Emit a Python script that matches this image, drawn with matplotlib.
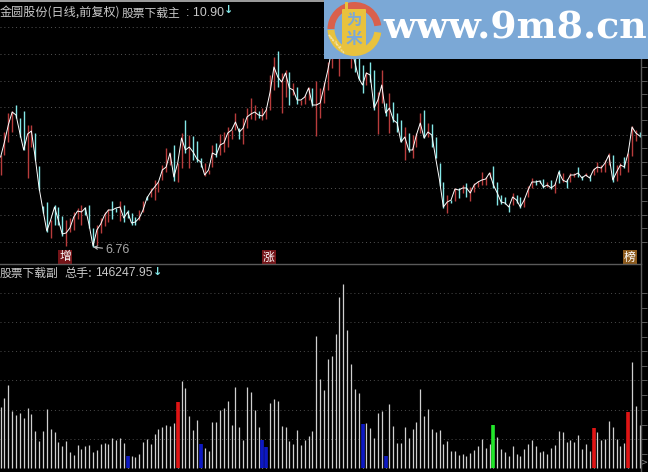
import matplotlib
matplotlib.use('Agg')
import matplotlib.pyplot as plt
from matplotlib.patches import Rectangle, Wedge, FancyBboxPatch
import numpy as np

plt.rcParams['font.family'] = ['Noto Sans CJK SC', 'DejaVu Sans']

# price readings, in ticks of 0.037 above the low of 6.76
close_ticks = [90, 105, 122, 135, 132, 114, 97, 113, 116, 89,
               59, 37, 16, 27, 40, 27, 13, 14, 19, 30,
               36, 35, 39, 22, 1, 17, 23, 32, 37, 37,
               39, 40, 29, 35, 24, 25, 29, 37, 49, 55,
               60, 65, 77, 80, 94, 70, 84, 109, 97, 100,
               95, 88, 85, 72, 77, 94, 92, 102, 104, 114,
               117, 125, 115, 119, 130, 133, 135, 132, 131, 137,
               155, 180, 170, 165, 174, 159, 157, 147, 147, 150,
               159, 142, 142, 144, 160, 177, 197, 202, 199, 207,
               209, 200, 185, 169, 162, 174, 172, 139, 147, 162,
               134, 139, 127, 124, 105, 110, 97, 97, 112, 124,
               109, 115, 112, 89, 67, 40, 45, 47, 58, 57,
               59, 59, 54, 62, 65, 67, 68, 74, 62, 54,
               45, 44, 40, 50, 47, 40, 47, 57, 65, 65,
               66, 60, 62, 59, 62, 75, 67, 65, 72, 72,
               74, 69, 72, 69, 77, 80, 79, 84, 92, 67,
               75, 82, 80, 94, 120, 114, 111]
high_ticks = [92, 115, 134, 136, 142, 129, 136, 122, 122, 114,
              81, 41, 45, 27, 42, 40, 31, 27, 29, 35,
              39, 42, 40, 42, 19, 22, 29, 35, 38, 46,
              39, 46, 42, 37, 34, 30, 37, 46, 51, 59,
              67, 65, 82, 99, 94, 102, 84, 114, 127, 112,
              111, 106, 89, 84, 77, 102, 104, 113, 115, 120,
              117, 134, 119, 129, 139, 149, 142, 136, 139, 139,
              172, 190, 196, 174, 177, 175, 164, 160, 147, 152,
              160, 159, 166, 159, 165, 185, 205, 209, 205, 212,
              217, 205, 202, 189, 182, 175, 185, 177, 155, 177,
              144, 154, 145, 134, 127, 120, 114, 112, 114, 134,
              137, 124, 123, 110, 84, 65, 52, 47, 59, 59,
              62, 64, 60, 64, 66, 75, 70, 75, 81, 65,
              52, 50, 42, 54, 52, 50, 49, 61, 69, 67,
              67, 68, 65, 67, 64, 77, 74, 68, 74, 74,
              80, 71, 74, 72, 79, 85, 82, 87, 94, 92,
              82, 84, 90, 94, 121, 117, 115]
low_ticks = [72, 92, 105, 115, 129, 110, 97, 69, 100, 87,
             57, 34, 15, 9, 22, 22, 11, 1, 15, 17,
             28, 22, 32, 19, 0, 2, 14, 21, 25, 28,
             35, 26, 25, 29, 22, 22, 27, 35, 47, 50,
             47, 55, 67, 75, 82, 66, 65, 79, 94, 79,
             87, 85, 80, 71, 73, 80, 90, 92, 95, 100,
             108, 117, 108, 103, 119, 128, 127, 129, 127, 128,
             137, 157, 160, 134, 150, 142, 152, 143, 142, 143,
             147, 141, 111, 129, 144, 157, 179, 189, 171, 192,
             195, 179, 175, 167, 154, 162, 165, 137, 113, 144,
             131, 114, 125, 115, 105, 87, 95, 89, 100, 114,
             109, 110, 100, 89, 61, 39, 34, 44, 46, 49,
             54, 50, 46, 55, 60, 62, 62, 69, 59, 42,
             43, 43, 35, 42, 44, 39, 40, 50, 59, 62,
             64, 59, 60, 58, 54, 64, 65, 59, 65, 70,
             70, 67, 71, 66, 72, 75, 75, 75, 82, 65,
             66, 72, 79, 75, 91, 106, 110]
# r = up day, c = down day
day_kind = ('rrrrcccrrc' 'cccrcccrrr' 'rrcccrrrrc' 'crccccrrcr'
            'rrrrrcrrcr' 'cccrrrcrrr' 'rrcrrrrcrr' 'rrcrrcrcrr'
            'rcrrrrrrrr' 'rrcccrccrr' 'crcccrcrrr' 'crccccrcrc'
            'rcrrrrrrcc' 'cccrccrrrc' 'ccrcrcrcrr' 'ccrcrrrrrc'
            'rrcrrrc')

# volume, in units of about 3400 lots
volume = [61, 70, 83, 57, 53, 55, 50, 60, 54, 37, 27, 37, 59, 39, 36, 26,
          22, 27, 16, 13, 23, 19, 22, 23, 16, 18, 24, 25, 24, 30, 28, 30,
          25, 12, 12, 11, 14, 26, 29, 24, 34, 39, 41, 43, 42, 45, 66, 87,
          80, 52, 38, 48, 24, 20, 17, 46,
          46, 58, 60, 67, 43, 81, 41, 28, 81, 76, 58, 41, 28, 21, 65, 69,
          67, 42, 41, 27, 24, 38, 23, 28, 32, 37, 132, 89, 78, 109, 112, 134,
          171, 184, 138, 104, 79, 75, 44, 45, 40, 30, 55, 57, 12, 64, 42, 25,
          25, 41, 30, 39, 46, 79, 52, 59, 39,
          36, 38, 24, 27, 17, 17, 13, 14, 12, 15, 18, 22, 29, 20, 24, 43,
          31, 19, 16, 12, 22, 14, 12, 19, 24, 28, 22, 16, 17, 14, 20, 23,
          37, 36, 26, 28, 26, 33, 19, 24, 17, 40, 36, 28, 29, 47, 41, 29,
          22, 25, 56, 106, 62, 43]
red_bars = [46, 154, 163]
blue_bars = [33, 52, 68, 69, 94, 100]
green_bars = [128]

low_price = 6.76
tick_size = 0.037

W, H = 648, 472
GREY = '#c8c8c8'
CYAN = '#84e8e8'
RED = '#b83c3c'


def to_price(ticks):
    return low_price + tick_size * np.array(ticks)


n = len(close_ticks)
days = np.arange(n)
xlim = (-0.6 / 3.85, (641 - 0.6) / 3.85)

fig = plt.figure(figsize=(W / 100, H / 100), dpi=100, facecolor='black')

# top panel
ax = fig.add_axes([0, 1 - 263 / H, 641 / W, 263 / H], facecolor='black')
ax.set_xlim(xlim)
ax.set_ylim(to_price(-16), to_price(247))
grid_price = to_price([220, 193, 166, 140, 112, 85, 59, 32, 5])
ax.hlines(grid_price, xlim[0], xlim[1], color='#555555', lw=0.7, linestyle=(0, (1, 3)), zorder=1)
is_up = np.array([k == 'r' for k in day_kind])
high = to_price(high_ticks)
low = to_price(low_ticks)
close = to_price(close_ticks)
ax.vlines(days[is_up], low[is_up], high[is_up], color=RED, lw=1.0, zorder=2)
ax.vlines(days[~is_up], low[~is_up], high[~is_up], color=CYAN, lw=1.0, zorder=2)
ax.plot(days, close, color='white', lw=0.7, zorder=3)

low_day = int(np.argmin(low))
ax.annotate('6.76', xy=(low_day, low[low_day]), xytext=(low_day + 3.2, low[low_day] - 0.11),
            color='#a8a8a8', fontsize=9, va='center', family=['Liberation Sans'],
            arrowprops=dict(arrowstyle='->', color='#c0c0c0', lw=0.8, shrinkA=0, shrinkB=0,
                            mutation_scale=6))

# signal badges
for day, word, col in [(16.7, '增', '#741418'), (69.7, '涨', '#741418'), (163.4, '榜', '#8c5a1c')]:
    ax.text(day, to_price(-10), word, color='white', fontsize=8.5, ha='center', va='center',
            bbox=dict(boxstyle='square,pad=0.08', fc=col, ec='none'), zorder=4)

# volume panel
vax = fig.add_axes([0, 0, 641 / W, 208 / H], facecolor='black')
vax.set_xlim(xlim)
vax.set_ylim(-4, 204)
grid_vol = [175, 146, 117, 88, 58, 29]
vax.hlines(grid_vol, xlim[0], xlim[1], color='#4c4c4c', lw=0.7, linestyle=(0, (1, 3)), zorder=1)
volume = np.array(volume)
vax.vlines(days, 0, volume, color='#d0d0d0', lw=0.9, zorder=2)
vax.vlines(red_bars, 0, volume[red_bars], color='#e01414', lw=2.6, zorder=3)
vax.vlines(blue_bars, 0, volume[blue_bars], color='#0c18c4', lw=2.6, zorder=3)
vax.vlines(green_bars, 0, volume[green_bars], color='#22e62a', lw=2.6, zorder=3)

# frame and right hand ticks
for a, ticks in [(ax, np.concatenate([grid_price, grid_price[:-1] - 13.5 * tick_size])),
                 (vax, grid_vol + [v - 14.5 for v in grid_vol])]:
    for side in ['left', 'bottom', 'top']:
        a.spines[side].set_visible(False)
    a.spines['right'].set_color('#5a5a5a')
    a.spines['right'].set_linewidth(1.0)
    a.set_xticks([])
    a.yaxis.tick_right()
    a.set_yticks(ticks)
    a.tick_params(axis='y', length=4, width=0.7, color='#5a5a5a', labelright=False)
vax.spines['top'].set_visible(True)
vax.spines['top'].set_color('#5a5a5a')
vax.spines['top'].set_linewidth(1.0)

# overlay for the captions and the site banner, in picture pixels
top = fig.add_axes([0, 0, 1, 1], facecolor='none', zorder=10)
top.set_xlim(0, W)
top.set_ylim(H, 0)
top.axis('off')
top.add_patch(Rectangle((0, 0), W, 2, fc='#9a9a9a', ec='none'))

top.text(0, 13, '金圆股份(日线,前复权)', color=GREY, fontsize=8.7, va='center')
top.text(122, 13, '股票下载主', color=GREY, fontsize=8.5, va='center')
top.text(186, 13, ': 10.90', color=GREY, fontsize=8.9, va='center', family=['Liberation Sans'])
top.text(229, 10, '↓', color=CYAN, fontsize=8, weight='bold', ha='center', va='center', family=['DejaVu Sans'])
top.text(0, 273, '股票下载副', color=GREY, fontsize=8.5, va='center')
top.text(64, 273, '总手:', color=GREY, fontsize=8.7, va='center')
top.text(95, 273, '146247.95', color=GREY, fontsize=8.8, va='center', family=['Liberation Sans'])
top.text(158, 272, '↓', color=CYAN, fontsize=8, weight='bold', ha='center', va='center', family=['DejaVu Sans'])
top.text(644, 462, '>', color='#8a8a8a', fontsize=6, ha='center', va='center', family=['DejaVu Sans'])

# banner
top.add_patch(Rectangle((324, 0), W - 324, 59, fc='#7ba8d6', ec='none'))
top.add_patch(Wedge((354.5, 29), 27, 180, 352, width=7, fc='#d9604c', ec='none'))
top.add_patch(Wedge((354.5, 29), 27, 8, 178, width=7, fc='#e8c23e', ec='none'))
top.add_patch(Rectangle((345, 2), 3, 8, fc='#e8c23e', ec='none'))
top.add_patch(FancyBboxPatch((343, 10), 22, 40, boxstyle='round,pad=1', fc='#e8c23e', ec='none'))
top.text(354, 20, '为', color='#7ba8d6', fontsize=11, weight='bold', ha='center', va='center')
top.text(354, 39, '米', color='#7ba8d6', fontsize=12, weight='bold', ha='center', va='center')
top.text(336, 44, 'www.9m8.cn', color='white', fontsize=2.8, rotation=-50, ha='center', va='center',
         family=['DejaVu Sans'])
top.text(647, 28, 'www.9m8.cn', color='white', fontsize=27.3, weight='bold', ha='right', va='center',
         family=['DejaVu Serif'])

fig.savefig('out.png', dpi=100, facecolor='black')
